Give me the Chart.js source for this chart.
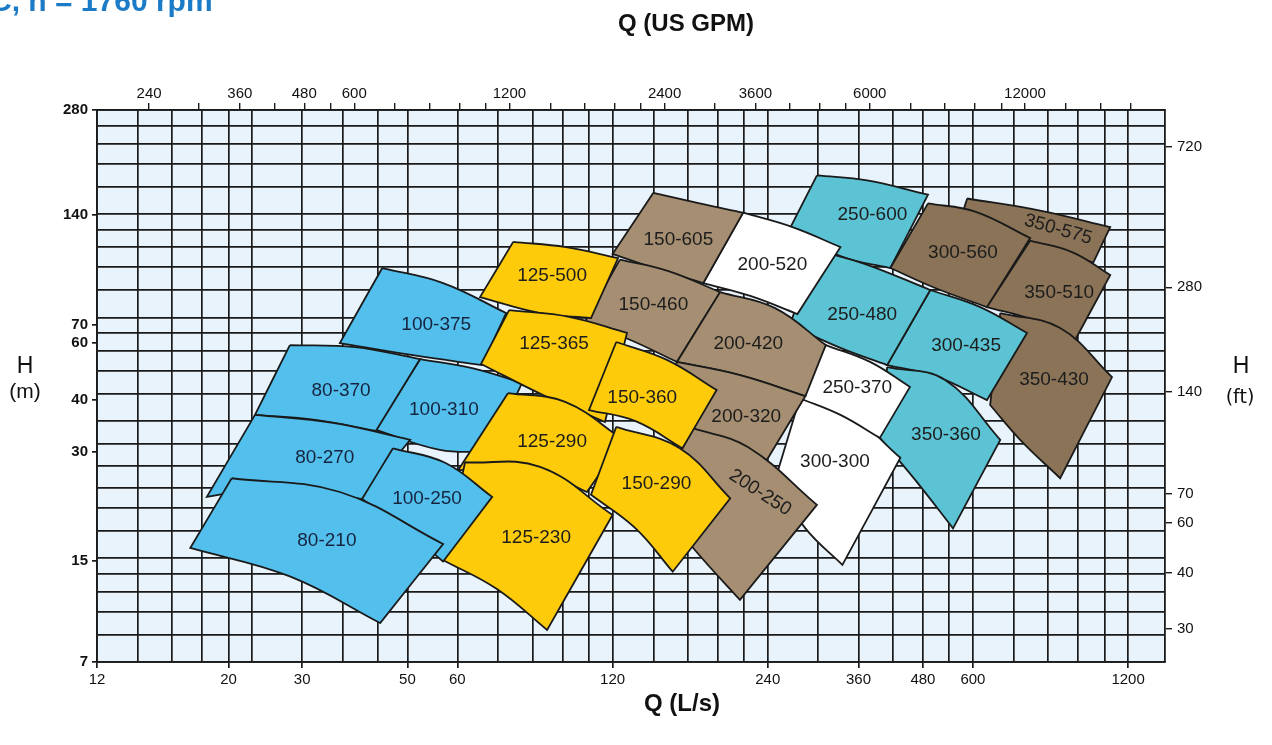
<!DOCTYPE html>
<html>
<head>
<meta charset="utf-8">
<title>Pump coverage chart</title>
<script src="https://cdn.jsdelivr.net/npm/chart.js@4.4.1/dist/chart.umd.min.js"></script>
<style>
  html, body { margin: 0; padding: 0; background: #fff; }
  #wrap { position: relative; width: 1272px; height: 745px; }
</style>
</head>
<body>
<div id="wrap"><canvas id="myChart"></canvas></div>
<script>
// ---- data ----
const GPM_PER_LS = 15.85;
const FT_PER_M = 3.2808;

const flowRangeLs = [12, 1415];
const headRangeM = [7, 280];

const flowGridLs = [12, 14.4, 16.8, 19.2, 21.6, 24, 30, 36, 42, 48, 60, 72, 84, 96, 108,
  120, 144, 168, 192, 216, 240, 300, 360, 420, 480, 540, 600, 720, 840, 960, 1080, 1200];
const flowLabelsLs = [[12, '12'], [21.6, '20'], [30, '30'], [48, '50'], [60, '60'], [120, '120'],
  [240, '240'], [360, '360'], [480, '480'], [600, '600'], [1200, '1200']];
const flowTicksGpm = [240, 300, 360, 420, 480, 540, 600, 720, 840, 960, 1080, 1200, 1440, 1680,
  1920, 2160, 2400, 3000, 3600, 4200, 4800, 5400, 6000, 7200, 8400, 9600, 10800, 12000, 14400,
  16800, 19200];
const flowLabelsGpm = [240, 360, 480, 600, 1200, 2400, 3600, 6000, 12000];
const headGridM = [7, 8.4, 9.8, 11.2, 12.6, 14, 16.8, 19.6, 22.4, 26, 30, 35, 42, 49, 56, 63, 70,
  84, 98, 112, 126, 140, 168, 196, 224, 252, 280];
// label text and the head it is printed at on the chart
const headLabelsM = [[7, '7'], [13.8, '15'], [28.5, '30'], [40.3, '40'], [59, '60'], [66.5, '70'],
  [139, '140'], [280, '280']];
const headLabelsFt = [[28.6, '30'], [41.6, '40'], [58.1, '60'], [70.6, '70'], [139.5, '140'],
  [281, '280'], [717, '720']];

// one entry per pump, back to front
const patchNames = ['100-375', '100-310', '80-370', '80-270', '250-600', '350-575', '300-560',
  '350-510', '350-430', '300-435', '250-480', '350-360', '300-300', '250-370', '200-520',
  '150-605', '150-460', '200-420', '200-320', '200-250', '125-500', '125-365', '125-290',
  '150-360', '150-290', '125-230', '100-250', '80-210'];
const patchGroups = ['blue', 'blue', 'blue', 'blue', 'teal', 'brown', 'brown',
  'brown', 'brown', 'teal', 'teal', 'teal', 'white', 'white', 'white',
  'tan', 'tan', 'tan', 'tan', 'tan', 'yellow', 'yellow', 'yellow',
  'yellow', 'yellow', 'yellow', 'blue', 'blue'];
// [Q l/s, H m]: top-left, top-mid, top-right, bottom-right, bottom-mid, bottom-left
const patchOutlines = [
  [[42.9, 97.4], [56.3, 88.1], [74.6, 72.1], [67.0, 50.9], [49.2, 54.4], [35.5, 59.0]],
  [[50.8, 53.0], [64.1, 49.9], [80.1, 45.2], [69.4, 28.5], [55.5, 28.9], [41.7, 33.0]],
  [[28.4, 58.2], [38.0, 57.4], [50.8, 53.0], [41.7, 32.8], [31.8, 35.3], [24.3, 36.5]],
  [[24.3, 36.5], [34.4, 34.6], [48.6, 30.9], [39.2, 20.8], [27.8, 22.7], [19.6, 21.1]],
  [[299, 181], [374, 175], [491, 159], [415, 97.4], [332, 105.5], [265, 127]],
  [[585, 155], [810, 143], [1108, 128], [1027, 101], [775, 115], [554, 121]],
  [[491, 150], [606, 142], [775, 119], [639, 75.0], [507, 85.2], [415, 97.4]],
  [[775, 117], [939, 108], [1108, 92.9], [947, 60.2], [785, 68.8], [639, 75.0]],
  [[678, 72.1], [886, 65.2], [1117, 47.0], [886, 23.9], [741, 30.9], [648, 39.0]],
  [[496, 84.1], [620, 75.0], [764, 63.1], [639, 40.3], [507, 47.3], [409, 50.9]],
  [[297, 110], [371, 100], [496, 84.1], [409, 50.9], [332, 57.1], [265, 66.5]],
  [[409, 50.2], [530, 46.1], [678, 30.9], [549, 17.1], [464, 23.6], [396, 31.3]],
  [[277, 40.8], [347, 36.5], [434, 27.4], [335, 13.4], [284, 17.1], [248, 23.6]],
  [[311, 58.2], [379, 52.0], [453, 44.0], [396, 31.3], [332, 36.5], [277, 40.8]],
  [[215, 141], [268, 128], [332, 112], [274, 71.6], [222, 80.8], [180, 88.1]],
  [[144, 161], [177, 150], [215, 141], [180, 88.1], [148, 96.1], [120, 107]],
  [[124, 103], [154, 95.4], [194, 82.9], [160, 52.0], [130, 60.2], [106, 67.9]],
  [[194, 82.9], [248, 74.5], [311, 58.2], [284, 41.4], [212, 47.6], [160, 52.0]],
  [[160, 52.0], [212, 47.6], [284, 41.4], [239, 27.0], [203, 30.6], [145, 34.1]],
  [[172, 33.4], [220, 29.4], [299, 20.0], [212, 10.6], [174, 14.7], [145, 20.7]],
  [[77.0, 116], [97.5, 112], [123, 104], [109, 69.7], [86.8, 72.1], [66.4, 80.2]],
  [[75.6, 73.5], [99.3, 70.2], [128, 63.1], [116, 34.8], [88.8, 41.4], [66.7, 51.3]],
  [[75.2, 42.2], [97.1, 39.8], [126, 30.9], [107, 21.8], [81.2, 26.1], [60.2, 25.2]],
  [[122, 59.4], [153, 52.7], [191, 43.1], [164, 29.2], [133, 35.0], [108, 37.7]],
  [[122, 33.7], [162, 29.2], [203, 20.9], [157, 12.8], [133, 17.1], [109, 21.4]],
  [[62.1, 26.6], [86.8, 25.8], [120, 18.7], [89.6, 8.67], [71.6, 11.4], [56.5, 13.8]],
  [[45.0, 29.2], [56.8, 26.5], [70.1, 21.1], [56.3, 13.7], [46.4, 17.5], [39.2, 20.8]],
  [[21.9, 23.9], [35.5, 21.8], [56.3, 15.4], [42.5, 9.08], [28.4, 12.4], [18.2, 15.0]]
];
const patchLabelAt = [
  [54.6, 66.5], [56.5, 37.7], [35.7, 42.8], [33.2, 27.4], [383, 139], [878, 126], [574, 108],
  [882, 82.4], [862, 46.1], [582, 57.8], [366, 71.1], [532, 31.9], [324, 26.6], [358, 43.7],
  [245, 99.3], [161, 118], [144, 76.0], [220, 58.6], [218, 36.0], [232, 21.7], [91.6, 92.3],
  [92.4, 58.6], [91.6, 30.4], [137, 40.8], [146, 23.1], [85.3, 16.1], [52.4, 20.9], [33.5, 15.7]
];

// ---- styles ----
const LINE = '#1a1a1a';
const FONT = '"Liberation Sans", Arial, sans-serif';
const groupFill = {
  blue: '#52bfec', yellow: '#fdcb0a', tan: '#a58e71',
  white: '#ffffff', teal: '#5bc3d3', brown: '#8b7357'
};
const labelTilt = { '200-250': 33, '350-575': 16 };

const datasets = patchNames.map((name, i) => {
  const [tl, tm, tr, br, bm, bl] = patchOutlines[i];
  // corners doubled so the spline only bends along the two impeller curves
  const ring = [tl, tl, tm, tr, tr, br, br, bm, bl, bl, tl].map(([x, y]) => ({ x, y }));
  return {
    label: name,
    data: ring,
    showLine: true,
    fill: 'shape',
    tension: 0.4,
    backgroundColor: groupFill[patchGroups[i]],
    borderColor: LINE,
    borderWidth: 1.8,
    pointRadius: 0,
    order: patchNames.length - i
  };
});

const near = (list, v) => list.some(t => Math.abs(t - v) < 1e-6);
const labelFor = (pairs, v) => { const p = pairs.find(q => Math.abs(q[0] - v) < 1e-6); return p ? p[1] : ''; };
const setTicks = values => axis => { axis.ticks = values.map(v => ({ value: v })); };
const headLabelVals = headLabelsM.map(p => p[0]);

const decor = {
  id: 'decor',
  beforeDraw(chart) {
    const { ctx, chartArea: a } = chart;
    ctx.save();
    ctx.fillStyle = '#e9f3fb';
    ctx.fillRect(a.left, a.top, a.right - a.left, a.bottom - a.top);
    ctx.restore();
  },
  afterDatasetsDraw(chart) {
    const { ctx, scales } = chart;
    ctx.save();
    ctx.font = '19px ' + FONT;
    ctx.textAlign = 'center';
    ctx.textBaseline = 'middle';
    patchNames.forEach((name, i) => {
      const px = scales.x.getPixelForValue(patchLabelAt[i][0]);
      const py = scales.y.getPixelForValue(patchLabelAt[i][1]);
      ctx.save();
      ctx.translate(px, py);
      ctx.rotate((labelTilt[name] || 0) * Math.PI / 180);
      ctx.fillStyle = patchGroups[i] === 'blue' ? '#17243f' : '#1d1d1d';
      ctx.fillText(name, 0, 0);
      ctx.restore();
    });
    ctx.restore();
  },
  afterDraw(chart) {
    const ctx = chart.ctx;
    ctx.save();
    ctx.fillStyle = '#1b7bc6';
    ctx.font = 'bold 30px ' + FONT;
    ctx.textAlign = 'left';
    ctx.textBaseline = 'alphabetic';
    ctx.fillText('C, n = 1760 rpm', -10, 11);

    ctx.fillStyle = '#111';
    ctx.textAlign = 'center';
    ctx.textBaseline = 'middle';
    ctx.font = 'bold 24px ' + FONT;
    ctx.fillText('Q (US GPM)', 686, 24);
    ctx.fillText('Q (L/s)', 682, 704);
    ctx.font = '23px ' + FONT;
    ctx.fillText('H', 25, 367);
    ctx.font = '21px ' + FONT;
    ctx.fillText('(m)', 25, 392);
    ctx.font = '23px ' + FONT;
    ctx.fillText('H', 1241, 367);
    ctx.font = '19px "DejaVu Sans", sans-serif';
    ctx.fillText('(ft)', 1240, 398);
    ctx.restore();
  }
};

const tickFont = { family: FONT, size: 15 };

new Chart(document.getElementById('myChart'), {
  type: 'scatter',
  data: { datasets },
  options: {
    responsive: true,
    maintainAspectRatio: false,
    animation: false,
    events: [],
    layout: { padding: 0 },
    plugins: { legend: { display: false }, tooltip: { enabled: false } },
    scales: {
      x: {
        type: 'logarithmic', position: 'bottom',
        min: flowRangeLs[0], max: flowRangeLs[1],
        afterBuildTicks: setTicks(flowGridLs),
        afterFit: s => { s.height = 83; },
        border: { display: true, color: LINE, width: 1.8 },
        grid: {
          color: LINE, lineWidth: 1.7, tickLength: 6,
          tickColor: c => near(flowLabelsLs.map(l => l[0]), c.tick.value) ? LINE : 'transparent'
        },
        ticks: {
          autoSkip: false, maxRotation: 0, padding: 3, color: '#111', font: tickFont,
          callback: v => labelFor(flowLabelsLs, v)
        }
      },
      x2: {
        type: 'logarithmic', position: 'top',
        min: flowRangeLs[0] * GPM_PER_LS, max: flowRangeLs[1] * GPM_PER_LS,
        afterBuildTicks: setTicks(flowTicksGpm),
        afterFit: s => { s.height = 110; },
        border: { display: true, color: LINE, width: 1.8 },
        grid: { drawOnChartArea: false, color: LINE, lineWidth: 1.4, tickLength: 7 },
        ticks: {
          autoSkip: false, maxRotation: 0, padding: 0, color: '#111', font: tickFont,
          callback: v => near(flowLabelsGpm, v) ? String(v) : ''
        }
      },
      y: {
        type: 'logarithmic', position: 'left',
        min: headRangeM[0], max: headRangeM[1],
        afterBuildTicks: setTicks([...new Set([...headGridM, ...headLabelVals])].sort((a, b) => a - b)),
        afterFit: s => { s.width = 97; },
        border: { display: true, color: LINE, width: 1.8 },
        grid: {
          color: c => near(headGridM, c.tick.value) ? LINE : 'transparent',
          lineWidth: 1.7, tickLength: 5,
          tickColor: c => near(headLabelVals, c.tick.value) ? LINE : 'transparent'
        },
        ticks: {
          autoSkip: false, padding: 4, color: '#111', font: { family: FONT, size: 15, weight: 'bold' },
          callback: v => labelFor(headLabelsM, v)
        }
      },
      y2: {
        type: 'logarithmic', position: 'right',
        min: headRangeM[0] * FT_PER_M, max: headRangeM[1] * FT_PER_M,
        afterBuildTicks: setTicks(headLabelsFt.map(p => p[0])),
        afterFit: s => { s.width = 107; },
        border: { display: true, color: LINE, width: 1.8 },
        grid: { drawOnChartArea: false, color: LINE, lineWidth: 1.4, tickLength: 7 },
        ticks: {
          autoSkip: false, padding: 5, color: '#111', font: tickFont,
          callback: v => labelFor(headLabelsFt, v)
        }
      }
    }
  },
  plugins: [decor]
});
</script>
</body>
</html>
